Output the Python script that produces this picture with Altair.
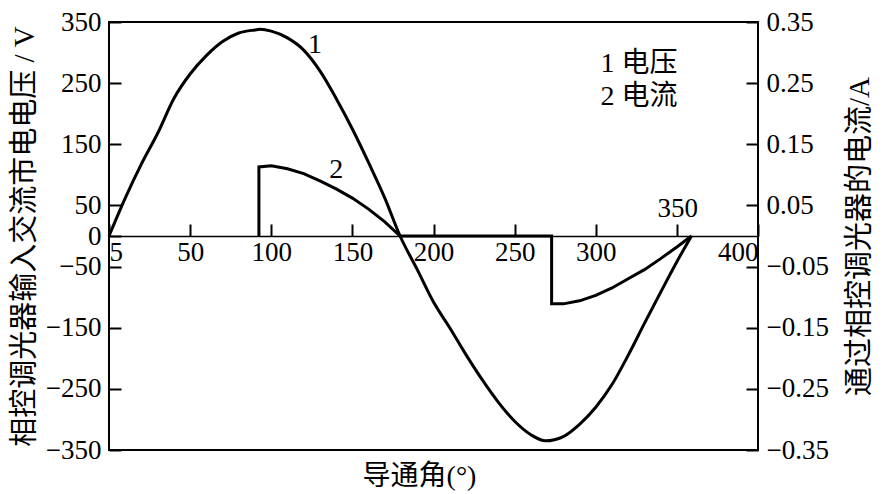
import altair as alt
import pandas as pd

# ---- data ----
volt_deg = [0, 10, 20, 30, 40, 50, 60, 70, 80, 90, 93, 100, 110, 120, 130, 140, 150, 160, 170, 179.4,
            190, 200, 210, 220, 230, 240, 250, 260, 269, 280, 290, 300, 310, 320, 330, 340, 350, 359]
volt_val = [0, 62, 118, 168, 225, 265, 295, 318, 332, 337, 338, 335, 324, 304, 270, 225, 175, 120, 62, 0,
            -55, -108, -150, -194, -235, -272, -303, -325, -335, -328, -308, -280, -243, -195, -143, -92, -42, 0]

# current in A (right axis)
curr_deg = [92.4, 92.4, 100, 110, 120, 130, 140, 150, 160, 170, 179.4,
            272.8, 272.8, 280, 290, 300, 310, 320, 330, 340, 350, 359]
curr_val = [0, 0.113, 0.115, 0.110, 0.102, 0.090, 0.077, 0.062, 0.044, 0.023, 0,
            0, -0.111, -0.111, -0.106, -0.097, -0.085, -0.070, -0.055, -0.037, -0.018, 0]

x_label_vals = [0, 50, 100, 150, 200, 250, 300, 350, 400]
left_label_vals = [-350, -250, -150, -50, 0, 50, 150, 250, 350]
right_label_vals = [-0.35, -0.25, -0.15, -0.05, 0.05, 0.15, 0.25, 0.35]

curve_labels = ["1", "2"]
curve_label_x = [127, 140]
curve_label_y = [312, 108]

legend_text = ["1 电压", "2 电流"]
legend_x = [303, 303]
legend_y = [282, 227]

extra_x_label = ["350"]
extra_x_label_x = [350.6]
extra_x_label_y = [43.5]

# ---- style ----
W, H = 649, 428
TICK = 12
AMP_TO_AXIS = 1000  # right axis (A) shares the left scale: 0.35 A <-> 350 V
SERIF = "Liberation Serif"
MIX = "'Liberation Serif', 'Noto Sans CJK SC'"
LBL = 27

vdf = pd.DataFrame({"deg": volt_deg, "v": volt_val, "i": range(len(volt_deg))})
cdf = pd.DataFrame({"deg": curr_deg, "a": curr_val, "i": range(len(curr_deg))})

xscale = alt.Scale(domain=[0, 400], nice=False, zero=False)
yscale = alt.Scale(domain=[-350, 350], nice=False, zero=False)

# x axis sits on the zero line; ticks point up, labels hang below the line
x_axis = alt.Axis(
    orient="top",
    values=x_label_vals,
    labelExpr="datum.value == 0 ? '5' : (datum.value == 350 ? '' : datum.label)",
    offset=-H / 2,
    ticks=True,
    tickSize=TICK,
    tickWidth=2,
    tickColor="black",
    tickOpacity=1,
    labelFlush=True,
    labelBaseline="top",
    labelPadding=-(TICK + 3),
    labelFont=SERIF,
    labelFontSize=LBL,
    labelColor="black",
    domainColor="black",
    domainWidth=1.5,
    grid=False,
    title=None,
)

# left axis shifted inward so its ticks point into the plot
left_axis = alt.Axis(
    orient="left",
    values=left_label_vals,
    offset=-TICK,
    ticks=True,
    tickSize=TICK,
    tickWidth=2,
    tickColor="black",
    tickOpacity=1,
    domain=False,
    labelPadding=8,
    labelFont=SERIF,
    labelFontSize=LBL,
    labelColor="black",
    grid=False,
    title="相控调光器输入交流市电电压 / V",
    titleFont=MIX,
    titleFontSize=29,
    titleFontWeight="normal",
    titleColor="black",
    titlePadding=6,
)

right_axis = alt.Axis(
    orient="right",
    values=[v * AMP_TO_AXIS for v in right_label_vals],
    labelExpr=f"format(datum.value / {AMP_TO_AXIS}, '.2f')",
    offset=-TICK,
    ticks=True,
    tickSize=TICK,
    tickWidth=2,
    tickColor="black",
    tickOpacity=1,
    domain=False,
    labelPadding=8,
    labelFont=SERIF,
    labelFontSize=LBL,
    labelColor="black",
    grid=False,
    title="通过相控调光器的电流/A",
    titleFont=MIX,
    titleFontSize=29,
    titleFontWeight="normal",
    titleColor="black",
    titleAngle=270,
    titleBaseline="top",
    titlePadding=17,
)


def X(field):
    return alt.X(field, type="quantitative", scale=xscale, axis=x_axis)


def Y(field, axis=left_axis):
    return alt.Y(field, type="quantitative", scale=yscale, axis=axis)


volt = alt.Chart(vdf).mark_line(color="black", strokeWidth=3, interpolate="monotone").encode(
    x=X("deg"), y=Y("v"), order="i:Q"
)

clab = alt.Chart(pd.DataFrame({"t": curve_labels, "x": curve_label_x, "y": curve_label_y})).mark_text(
    font=SERIF, fontSize=28, color="black"
).encode(x=X("x"), y=Y("y"), text="t:N")

leg = alt.Chart(pd.DataFrame({"t": legend_text, "x": legend_x, "y": legend_y})).mark_text(
    font=MIX, fontSize=28, color="black", align="left"
).encode(x=X("x"), y=Y("y"), text="t:N")

xl = alt.Chart(pd.DataFrame({"t": extra_x_label, "x": extra_x_label_x, "y": extra_x_label_y})).mark_text(
    font=SERIF, fontSize=LBL, color="black"
).encode(x=X("x"), y=Y("y"), text="t:N")

left_group = alt.layer(volt, clab, leg, xl)

curr = alt.Chart(cdf).transform_calculate(
    y=f"datum.a * {AMP_TO_AXIS}"
).mark_line(color="black", strokeWidth=3).encode(
    x=X("deg"), y=Y("y", right_axis), order="i:Q"
)

chart = (
    alt.layer(left_group, curr)
    .properties(
        width=W,
        height=H,
        padding={"left": 2, "top": 0, "right": 0, "bottom": 0},
        title=alt.TitleParams(
            "导通角(°)",
            orient="bottom",
            anchor="middle",
            font=MIX,
            fontSize=28,
            fontWeight="normal",
            color="black",
            offset=0,
            dx=-14,
        ),
    )
    .configure(background="white", view=alt.ViewConfig(stroke="black", strokeWidth=2))
)

chart.save("out.html", embed_options={"renderer": "svg", "actions": False})
